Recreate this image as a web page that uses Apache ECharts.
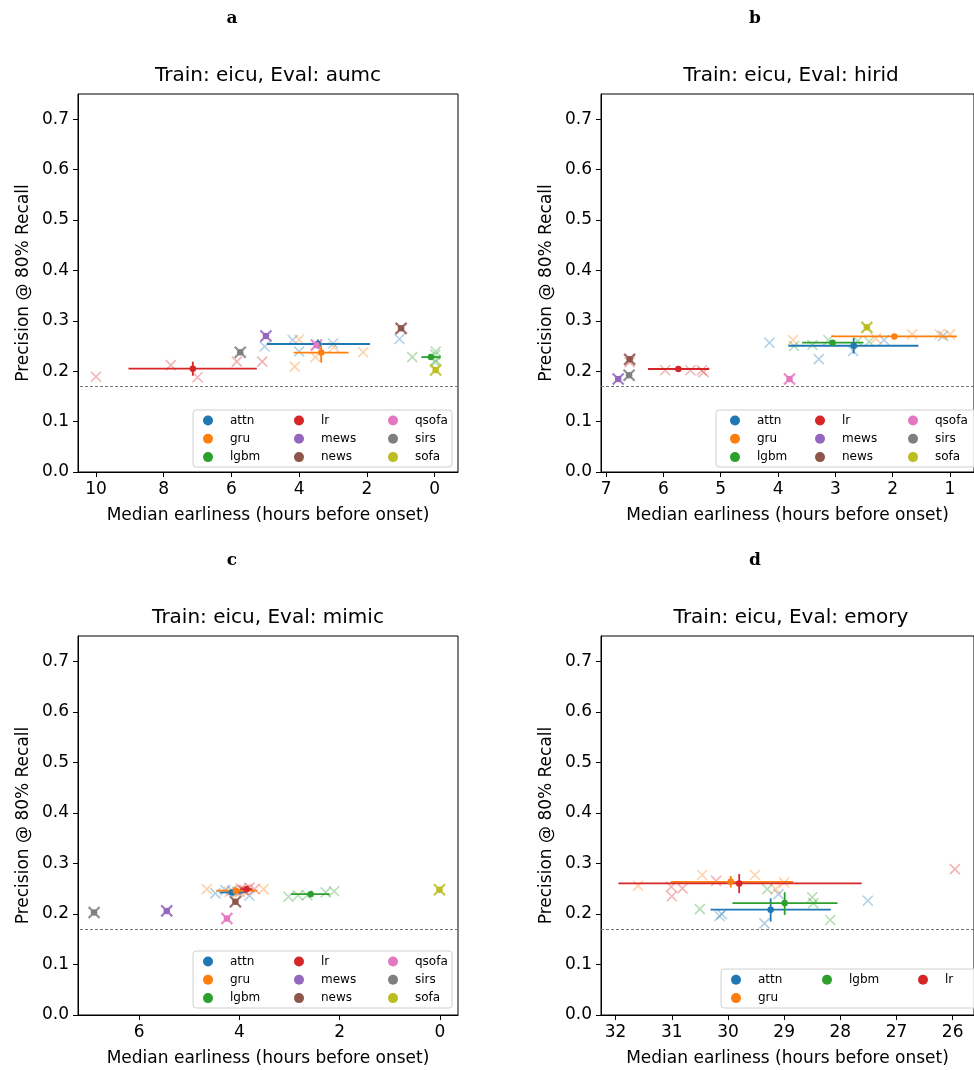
<!DOCTYPE html>
<html><head><meta charset="utf-8">
<script src="https://cdn.jsdelivr.net/npm/echarts@6/dist/echarts.min.js"></script>
<style>html,body{margin:0;padding:0;background:#fff}#chart{width:974px;height:1070px}</style>
</head><body><div id="chart"></div>
<script>
// ---------------- DATA ----------------
const models = ['attn','gru','lgbm','lr','mews','news','qsofa','sirs','sofa'];
const baselines = ['mews','news','qsofa','sirs','sofa'];
const yTickValues = [0, 0.1, 0.2, 0.3, 0.4, 0.5, 0.6, 0.7];
const threshold = 0.17;

const panelTitles = ['Train: eicu, Eval: aumc','Train: eicu, Eval: hirid','Train: eicu, Eval: mimic','Train: eicu, Eval: emory'];
const panelLetters = ['a','b','c','d'];
const xLabel = 'Median earliness (hours before onset)';
const yLabel = 'Precision @ 80% Recall';

const aumcXTicks = [0, 2, 4, 6, 8, 10];
const hiridXTicks = [1, 2, 3, 4, 5, 6, 7];
const mimicXTicks = [0, 2, 4, 6];
const emoryXTicks = [26, 27, 28, 29, 30, 31, 32];

// seeds: [model, earliness, precision]
const aumcSeeds = [
  ['attn',5.02,0.249],['attn',4.19,0.262],['attn',4.00,0.239],['attn',3.00,0.255],['attn',1.04,0.264],
  ['gru',4.00,0.263],['gru',4.13,0.209],['gru',3.52,0.228],['gru',2.98,0.248],['gru',2.11,0.2375],
  ['lgbm',0.66,0.228],['lgbm',-0.03,0.239],['lgbm',-0.02,0.233],['lgbm',-0.03,0.222],['lgbm',-0.02,0.218],
  ['lr',10.0,0.189],['lr',7.79,0.212],['lr',7.00,0.188],['lr',5.84,0.219],['lr',5.09,0.219],
  ['mews',4.98,0.270],['news',0.99,0.285],['qsofa',3.49,0.252],['sirs',5.74,0.2375],['sofa',-0.03,0.2025]
];
// means: [model, earliness, precision, xErrFrom, xErrTo, yErrFrom, yErrTo]
const aumcMeans = [
  ['attn',3.45,0.254,4.95,1.91,0.245,0.263],
  ['gru',3.35,0.237,4.16,2.54,0.217,0.257],
  ['lgbm',0.11,0.228,0.39,-0.18,0.223,0.233],
  ['lr',7.14,0.205,9.04,5.25,0.191,0.219],
  ['mews',4.98,0.270,4.98,4.98,0.270,0.270],
  ['news',0.99,0.285,0.99,0.99,0.285,0.285],
  ['qsofa',3.49,0.252,3.49,3.49,0.252,0.252],
  ['sirs',5.74,0.2375,5.74,5.74,0.2375,0.2375],
  ['sofa',-0.03,0.2025,-0.03,-0.03,0.2025,0.2025]
];

const hiridSeeds = [
  ['attn',4.15,0.2565],['attn',3.29,0.224],['attn',2.69,0.240],['attn',2.15,0.262],['attn',1.12,0.270],
  ['gru',3.74,0.262],['gru',2.29,0.265],['gru',1.66,0.273],['gru',1.18,0.273],['gru',1.00,0.273],
  ['lgbm',3.72,0.250],['lgbm',3.40,0.252],['lgbm',3.12,0.262],['lgbm',2.61,0.260],['lgbm',2.41,0.2585],
  ['lr',6.59,0.218],['lr',5.97,0.202],['lr',5.53,0.202],['lr',5.33,0.202],['lr',5.30,0.198],
  ['mews',6.79,0.1845],['news',6.59,0.2235],['qsofa',3.80,0.1845],['sirs',6.60,0.192],['sofa',2.45,0.287]
];
const hiridMeans = [
  ['attn',2.68,0.2505,3.82,1.55,0.235,0.266],
  ['gru',1.97,0.269,3.07,0.88,0.265,0.273],
  ['lgbm',3.05,0.2565,3.58,2.51,0.252,0.261],
  ['lr',5.74,0.2044,6.27,5.20,0.200,0.209],
  ['mews',6.79,0.1845,6.79,6.79,0.1845,0.1845],
  ['news',6.59,0.2235,6.59,6.59,0.2235,0.2235],
  ['qsofa',3.80,0.1845,3.80,3.80,0.1845,0.1845],
  ['sirs',6.60,0.192,6.60,6.60,0.192,0.192],
  ['sofa',2.45,0.287,2.45,2.45,0.287,0.287]
];

const mimicSeeds = [
  ['attn',4.48,0.2406],['attn',4.28,0.247],['attn',3.80,0.236],['attn',4.15,0.246],['attn',4.04,0.2434],
  ['gru',4.65,0.249],['gru',3.52,0.249],['gru',4.20,0.244],['gru',4.00,0.245],['gru',3.98,0.243],
  ['lgbm',3.02,0.234],['lgbm',2.83,0.237],['lgbm',2.65,0.237],['lgbm',2.28,0.2426],['lgbm',2.11,0.245],
  ['lr',3.97,0.250],['lr',3.80,0.252],['lr',3.70,0.249],['lr',3.90,0.247],['lr',3.93,0.247],
  ['mews',5.45,0.206],['news',4.08,0.224],['qsofa',4.25,0.191],['sirs',6.90,0.203],['sofa',0.01,0.248]
];
const mimicMeans = [
  ['attn',4.15,0.2426,4.40,3.90,0.238,0.247],
  ['gru',4.07,0.246,4.46,3.64,0.243,0.249],
  ['lgbm',2.58,0.2391,2.97,2.20,0.235,0.243],
  ['lr',3.86,0.249,3.98,3.74,0.246,0.252],
  ['mews',5.45,0.206,5.45,5.45,0.206,0.206],
  ['news',4.08,0.224,4.08,4.08,0.224,0.224],
  ['qsofa',4.25,0.191,4.25,4.25,0.191,0.191],
  ['sirs',6.90,0.203,6.90,6.90,0.203,0.203],
  ['sofa',0.01,0.248,0.01,0.01,0.248,0.248]
];

const emorySeeds = [
  ['attn',30.15,0.1958],['attn',30.11,0.1997],['attn',29.35,0.1813],['attn',29.10,0.2393],['attn',27.51,0.226],
  ['gru',31.60,0.2557],['gru',30.46,0.277],['gru',29.52,0.277],['gru',29.15,0.249],['gru',29.00,0.262],
  ['lgbm',30.50,0.2096],['lgbm',29.30,0.249],['lgbm',28.50,0.233],['lgbm',28.48,0.2215],['lgbm',28.18,0.188],
  ['lr',31.01,0.2537],['lr',31.00,0.235],['lr',30.81,0.2505],['lr',30.21,0.2655],['lr',25.96,0.2887]
];
const emoryMeans = [
  ['attn',29.24,0.2084,30.31,28.17,0.185,0.231],
  ['gru',29.95,0.2636,31.02,28.84,0.252,0.275],
  ['lgbm',28.99,0.2215,29.92,28.05,0.198,0.243],
  ['lr',29.80,0.2604,31.95,27.62,0.241,0.279]
];

// ---------------- STYLE / LAYOUT ----------------
const palette = {attn:'#1f77b4',gru:'#ff7f0e',lgbm:'#2ca02c',lr:'#d62728',mews:'#9467bd',news:'#8c564b',qsofa:'#e377c2',sirs:'#7f7f7f',sofa:'#bcbd22'};
const FONT = 'DejaVu Sans';
const X_PATH = 'path://M0,0L10,10M10,0L0,10';

const panels = [
  {seeds:aumcSeeds, means:aumcMeans, ticks:aumcXTicks, xmin:-0.69, xmax:10.53,
   box:[78,94,380,378], letterPos:[232,10], legendCols:[['attn','gru','lgbm'],['lr','mews','news'],['qsofa','sirs','sofa']],
   legendX:[203,294,388], legendY:414.5, frame:[193,410,259,57]},
  {seeds:hiridSeeds, means:hiridMeans, ticks:hiridXTicks, xmin:0.58, xmax:7.09,
   box:[601,94,380,378], letterPos:[755,10], legendCols:[['attn','gru','lgbm'],['lr','mews','news'],['qsofa','sirs','sofa']],
   legendX:[730,815,908], legendY:414.5, frame:[716,410,262,57]},
  {seeds:mimicSeeds, means:mimicMeans, ticks:mimicXTicks, xmin:-0.36, xmax:7.22,
   box:[78,636,380,379], letterPos:[232,552], legendCols:[['attn','gru','lgbm'],['lr','mews','news'],['qsofa','sirs','sofa']],
   legendX:[203,294,388], legendY:955.5, frame:[193,951,259,57]},
  {seeds:emorySeeds, means:emoryMeans, ticks:emoryXTicks, xmin:25.62, xmax:32.26,
   box:[601,636,380,379], letterPos:[755,552], legendCols:[['attn','gru'],['lgbm'],['lr']],
   legendX:[731,822,918], legendY:973.8, frame:[721,969,258,39]}
];

function rgba(hex, a){ const n = parseInt(hex.slice(1),16); return 'rgba('+(n>>16)+','+((n>>8)&255)+','+(n&255)+','+a+')'; }

function errRenderer(col){
  return function(params, api){
    const x = api.value(0), y = api.value(1);
    const l = api.coord([api.value(2), y]), r = api.coord([api.value(3), y]);
    const b = api.coord([x, api.value(4)]), t = api.coord([x, api.value(5)]);
    return {type:'group', children:[
      {type:'line', shape:{x1:l[0],y1:l[1],x2:r[0],y2:r[1]}, style:{stroke:col, lineWidth:1.8}},
      {type:'line', shape:{x1:b[0],y1:b[1],x2:t[0],y2:t[1]}, style:{stroke:col, lineWidth:1.8}}
    ]};
  };
}

const grids = [], xAxes = [], yAxes = [], series = [], legends = [], titles = [], graphics = [];

panels.forEach((p, i) => {
  grids.push({left:p.box[0], top:p.box[1], width:p.box[2], height:p.box[3], show:true,
    borderColor:'#000', borderWidth:1, backgroundColor:'#fff', containLabel:false});
  xAxes.push({type:'value', gridIndex:i, inverse:true, min:p.xmin, max:p.xmax,
    axisLine:{show:true, onZero:false, lineStyle:{color:'#000', width:1}},
    axisTick:{show:true, length:5, customValues:p.ticks, lineStyle:{color:'#000', width:1}},
    axisLabel:{customValues:p.ticks, color:'#000', fontSize:17, fontFamily:FONT, margin:9},
    splitLine:{show:false},
    name:xLabel, nameLocation:'middle', nameGap:35,
    nameTextStyle:{color:'#000', fontSize:17, fontFamily:FONT}});
  yAxes.push({type:'value', gridIndex:i, min:0, max:0.75,
    axisLine:{show:true, onZero:false, lineStyle:{color:'#000', width:1}},
    axisTick:{show:true, length:5, customValues:yTickValues, lineStyle:{color:'#000', width:1}},
    axisLabel:{customValues:yTickValues, color:'#000', fontSize:17, fontFamily:FONT, margin:9,
      formatter:v => v.toFixed(1)},
    splitLine:{show:false},
    name:yLabel, nameLocation:'middle', nameGap:46, nameRotate:90,
    nameTextStyle:{color:'#000', fontSize:17, fontFamily:FONT}});

  let first = true;
  models.forEach(m => {
    const mean = p.means.find(r => r[0] === m);
    if (!mean) return;
    const col = palette[m];
    const isBase = baselines.includes(m);
    const sd = p.seeds.filter(r => r[0] === m).map(r => [r[1], r[2]]);
    const seedSeries = {type:'scatter', name:m+' seeds', xAxisIndex:i, yAxisIndex:i, data:sd,
      symbol:X_PATH, symbolSize:isBase?11:10, silent:true, z:2, animation:false,
      itemStyle:{color:'rgba(0,0,0,0)', opacity:1, borderColor:rgba(col, isBase?0.85:0.35), borderWidth:isBase?2.2:1.6}};
    if (first) {
      seedSeries.markLine = {silent:true, symbol:'none', animation:false,
        label:{show:false}, lineStyle:{color:'#777', type:[3,2], width:1, opacity:1},
        data:[{yAxis:threshold}]};
      first = false;
    }
    series.push(seedSeries);
    series.push({type:'custom', name:m+' err', xAxisIndex:i, yAxisIndex:i, silent:true, z:3,
      data:[[mean[1],mean[2],mean[3],mean[4],mean[5],mean[6]]], encode:{x:0, y:1},
      renderItem:errRenderer(col), animation:false});
    series.push({type:'scatter', name:m, xAxisIndex:i, yAxisIndex:i, silent:true, z:4,
      data:[[mean[1], mean[2]]], symbol:'circle', symbolSize:6.5, itemStyle:{color:col, opacity:1}, animation:false});
  });

  titles.push({text:panelTitles[i], left:p.box[0] + p.box[2]/2, top:p.box[1]-28, textAlign:'center', padding:0,
    textStyle:{fontSize:20, fontWeight:'normal', color:'#000', fontFamily:FONT}});
  titles.push({text:panelLetters[i], left:p.letterPos[0], top:p.letterPos[1], textAlign:'center', padding:0,
    textStyle:{fontSize:17, fontWeight:'bold', color:'#000', fontFamily:'DejaVu Serif'}});

  p.legendCols.forEach((cols, j) => {
    legends.push({orient:'vertical', left:p.legendX[j], top:p.legendY, data:cols, icon:'circle',
      itemWidth:34, itemHeight:10, itemGap:6.3, padding:0, selectedMode:false, z:20,
      itemStyle:{opacity:1},
      textStyle:{fontSize:12, color:'#000', fontFamily:FONT, lineHeight:11}});
  });
  graphics.push({type:'rect', z:8, silent:true,
    shape:{x:p.frame[0], y:p.frame[1], width:p.frame[2], height:p.frame[3], r:3},
    style:{fill:'rgba(255,255,255,0.8)', stroke:'#d0d0d0', lineWidth:1}});
});

const chart = echarts.init(document.getElementById('chart'), null, {renderer:'canvas'});
chart.setOption({
  animation:false,
  backgroundColor:'#fff',
  title:titles,
  grid:grids, xAxis:xAxes, yAxis:yAxes,
  legend:legends,
  graphic:graphics,
  series:series
});
</script></body></html>
